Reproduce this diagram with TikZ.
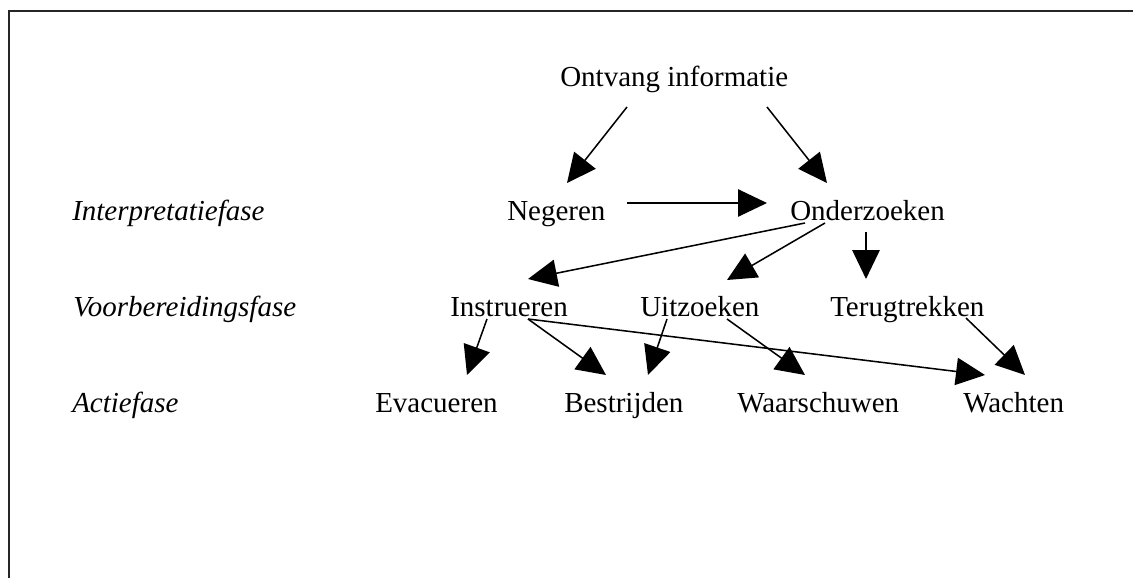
\documentclass[tikz,border=0pt]{standalone}
\usepackage{fontspec}
\setmainfont{Liberation Serif}
\usetikzlibrary{arrows.meta,calc}
\begin{document}
\begin{tikzpicture}[x=0.75pt,y=-0.75pt,
  lbl/.style={anchor=base west,inner sep=0pt,font=\fontsize{21.75}{26}\selectfont},
  phase/.style={lbl,font=\fontsize{21.75}{26}\selectfont\itshape},
  arr/.style={line width=1.15pt,-{Triangle[length=21.75pt,width=20.5pt]}},
  frame/.style={line width=1.5pt,draw=black!85}]
\useasboundingbox (0,0) rectangle (1133,578);
\draw[frame] (9,578) -- (9,11) -- (1133,11);
% texts
\node[lbl] (ont) at (560,86) {Ontvang informatie};
\node[lbl] (neg) at (507,220) {Negeren};
\node[lbl] (ond) at (790,220) {Onderzoeken};
\node[lbl] (ins) at (450,316) {Instrueren};
\node[lbl] (uit) at (640,316) {Uitzoeken};
\node[lbl] (ter) at (830,316) {Terugtrekken};
\node[lbl] (eva) at (375,412) {Evacueren};
\node[lbl] (bes) at (564,412) {Bestrijden};
\node[lbl] (waa) at (737,412) {Waarschuwen};
\node[lbl] (wac) at (963,412) {Wachten};
\node[phase] (int) at (72,220) {Interpretatiefase};
\node[phase] (voo) at (73,316) {Voorbereidingsfase};
\node[phase] (act) at (72,412) {Actiefase};
% connectors
\draw[arr] ($(ont.base west)+(67,21)$) -- ($(neg.base west)+(60,-37)$);
\draw[arr] ($(ont.base west)+(207,21)$) -- ($(ond.base west)+(37,-37)$);
\draw[arr] ($(neg.base west)+(120,-17)$) -- ($(ond.base west)+(-23,-17)$);
\draw[arr] ($(ond.base west)+(15,3)$) -- ($(ins.base west)+(78,-37)$);
\draw[arr] ($(ond.base west)+(35,3)$) -- ($(uit.base west)+(87,-36)$);
\draw[arr,line width=1.6pt] ($(ond.base west)+(76,12)$) -- ($(ter.base west)+(36,-37)$);
\draw[arr] ($(ins.base west)+(37,3)$) -- ($(eva.base west)+(92,-37)$);
\draw[arr] ($(ins.base west)+(78,3)$) -- ($(bes.base west)+(42,-37)$);
\draw[arr] ($(ins.base west)+(78,3)$) -- ($(wac.base west)+(22,-37)$);
\draw[arr] ($(uit.base west)+(27,3)$) -- ($(bes.base west)+(84,-37)$);
\draw[arr] ($(uit.base west)+(87,3)$) -- ($(waa.base west)+(68,-37)$);
\draw[arr] ($(ter.base west)+(136,2)$) -- ($(wac.base west)+(62,-37)$);
\end{tikzpicture}
\end{document}
